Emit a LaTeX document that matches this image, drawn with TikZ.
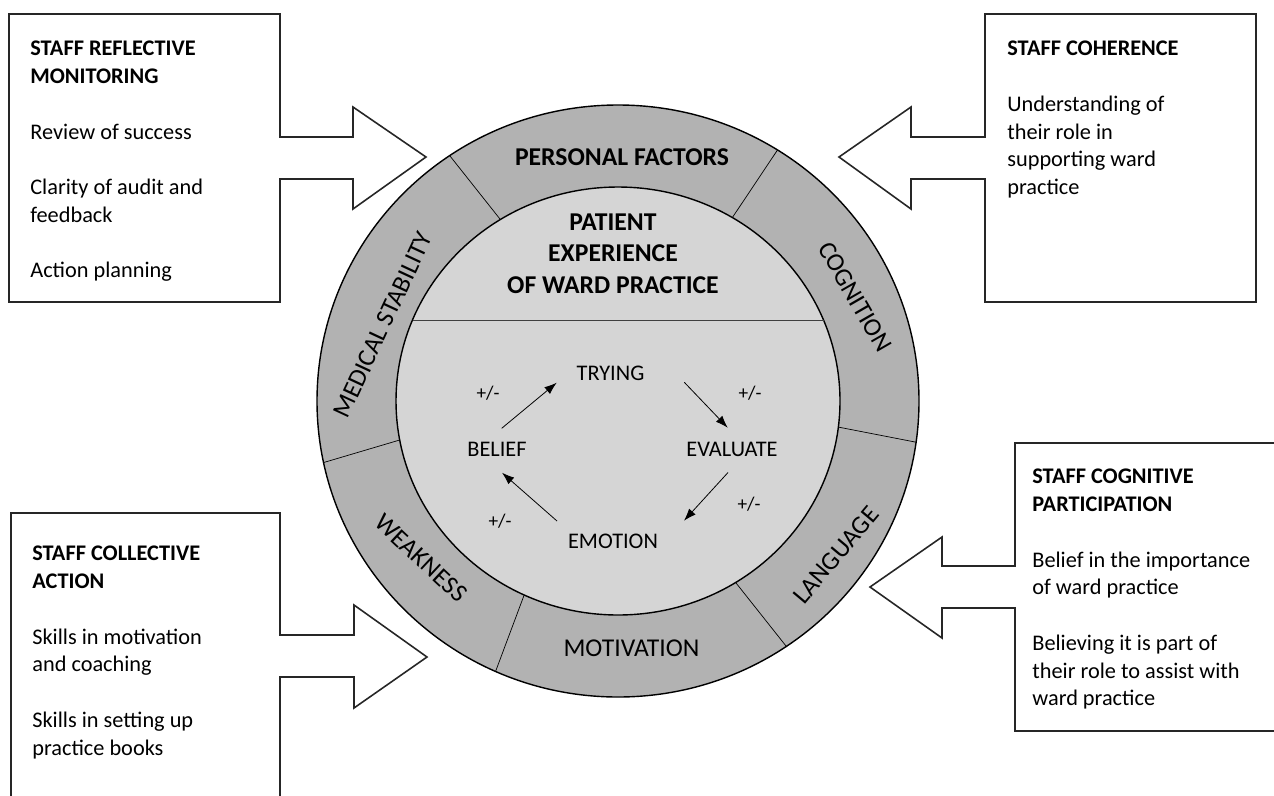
\documentclass[tikz,border=0pt]{standalone}
\usepackage{fontspec}
\setmainfont{Carlito}
\usetikzlibrary{arrows.meta}

\definecolor{ringgray}{RGB}{178,178,178}
\definecolor{coregray}{RGB}{213,213,213}

\tikzset{
  boxline/.style={draw=black!85, line width=0.9pt, fill=white},
  boxtext/.style={anchor=north west, inner sep=0pt, align=left,
    font=\fontsize{12.7}{15.8}\selectfont},
  ringtext/.style={inner sep=0pt, font=\fontsize{14.6}{17.8}\selectfont},
  ringbold/.style={inner sep=0pt, font=\fontsize{14.6}{17.8}\selectfont\bfseries},
  cycletext/.style={inner sep=0pt, font=\fontsize{12.7}{15.8}\selectfont},
  pmtext/.style={inner sep=0pt, font=\fontsize{11}{13}\selectfont},
  cyclearrow/.style={-{Latex[length=7pt,width=5pt]}, line width=0.45pt},
}

\begin{document}
\begin{tikzpicture}[x=0.02cm, y=0.02cm]
  \useasboundingbox (0,0) rectangle (1274,-795);
  \clip (0,0) rectangle (1274,-795);

  % boxes with their block arrows
  \draw[boxline] (280,-137) -- (280,-14) -- (9,-14) -- (9,-302) -- (280,-302)
    -- (280,-179) -- (353,-179) -- (353,-209) -- (426,-157) -- (353,-107)
    -- (353,-137) -- cycle;
  \draw[boxline] (985,-137) -- (985,-14) -- (1256,-14) -- (1256,-302) -- (985,-302)
    -- (985,-179) -- (911,-179) -- (911,-209) -- (839,-157) -- (911,-107)
    -- (911,-137) -- cycle;
  \draw[boxline] (280,-635) -- (280,-513) -- (11,-513) -- (11,-820) -- (280,-820)
    -- (280,-677) -- (354,-677) -- (354,-708) -- (427,-657) -- (354,-605)
    -- (354,-635) -- cycle;
  \draw[boxline] (1015,-566) -- (1015,-443) -- (1290,-443) -- (1290,-731) -- (1015,-731)
    -- (1015,-608) -- (942,-608) -- (942,-638) -- (870,-587) -- (942,-537)
    -- (942,-566) -- cycle;

  \node[boxtext] (reflective) at (30,-40.8)
    {\textbf{STAFF REFLECTIVE}\\\textbf{MONITORING}\\[15.8pt]Review of success\\[15.8pt]Clarity of audit and\\feedback\\[15.8pt]Action planning};
  \node[boxtext] (coherence) at (1007,-40.8)
    {\textbf{STAFF COHERENCE}\\[15.8pt]Understanding of\\their role in\\supporting ward\\practice};
  \node[boxtext] (collective) at (32,-545.8)
    {\textbf{STAFF COLLECTIVE}\\\textbf{ACTION}\\[15.8pt]Skills in motivation\\and coaching\\[15.8pt]Skills in setting up\\practice books};
  \node[boxtext] (participation) at (1032,-468.8)
    {\textbf{STAFF COGNITIVE}\\\textbf{PARTICIPATION}\\[15.8pt]Belief in the importance\\of ward practice\\[15.8pt]Believing it is part of\\their role to assist with\\ward practice};

  % ring and core
  \draw[fill=ringgray, line width=0.8pt] (618,-401) ellipse [x radius=301, y radius=296];
  \draw[fill=coregray, line width=0.8pt] (618,-401) ellipse [x radius=222, y radius=214];
  \draw[line width=0.5pt, black!75] (412.5,-320) -- (823.5,-320);
  \begin{scope}[shift={(618,-401)}, line width=0.4pt]
    \foreach \a/\b in {122/124, 59/58, -7/-8, -58/-56, -115/-114, 190.5/192}
      \draw (\a:222 and 214) -- (\b:301 and 296);
  \end{scope}

  \node[ringbold] (personal) at (622,-157) {PERSONAL FACTORS};
  \node[ringtext, rotate=65] (medical) at (383,-325) {MEDICAL STABILITY};
  \node[ringtext, rotate=-60] (cognition) at (855,-297) {COGNITION};
  \node[ringtext, rotate=50] (language) at (836,-555) {LANGUAGE};
  \node[ringtext, rotate=-43] (weakness) at (421,-558) {WEAKNESS};
  \node[ringtext] (motivation) at (631.5,-648) {MOTIVATION};
  \node[ringbold, align=center] (patient) at (613,-253.7)
    {PATIENT\\EXPERIENCE\\OF WARD PRACTICE};

  % cycle
  \node[cycletext] (trying) at (610.5,-373) {TRYING};
  \node[cycletext] (belief) at (497,-449) {BELIEF};
  \node[cycletext] (evaluate) at (732,-449) {EVALUATE};
  \node[cycletext] (emotion) at (613,-541.5) {EMOTION};
  \node[pmtext] (pm-belief) at (488,-393) {+/-};
  \node[pmtext] (pm-trying) at (750,-393) {+/-};
  \node[pmtext] (pm-evaluate) at (749,-504) {+/-};
  \node[pmtext] (pm-emotion) at (500,-521) {+/-};

  \coordinate (belief-out) at (501.7,-428.3);
  \coordinate (trying-in) at (556.7,-382.7);
  \coordinate (trying-out) at (684.3,-382.3);
  \coordinate (evaluate-in) at (727.7,-427.7);
  \coordinate (evaluate-out) at (728,-472.5);
  \coordinate (emotion-in) at (684,-520.7);
  \coordinate (emotion-out) at (557,-521);
  \coordinate (belief-in) at (502,-472.7);
  \draw[cyclearrow] (belief-out) -- (trying-in);
  \draw[cyclearrow] (trying-out) -- (evaluate-in);
  \draw[cyclearrow] (evaluate-out) -- (emotion-in);
  \draw[cyclearrow] (emotion-out) -- (belief-in);
\end{tikzpicture}
\end{document}
